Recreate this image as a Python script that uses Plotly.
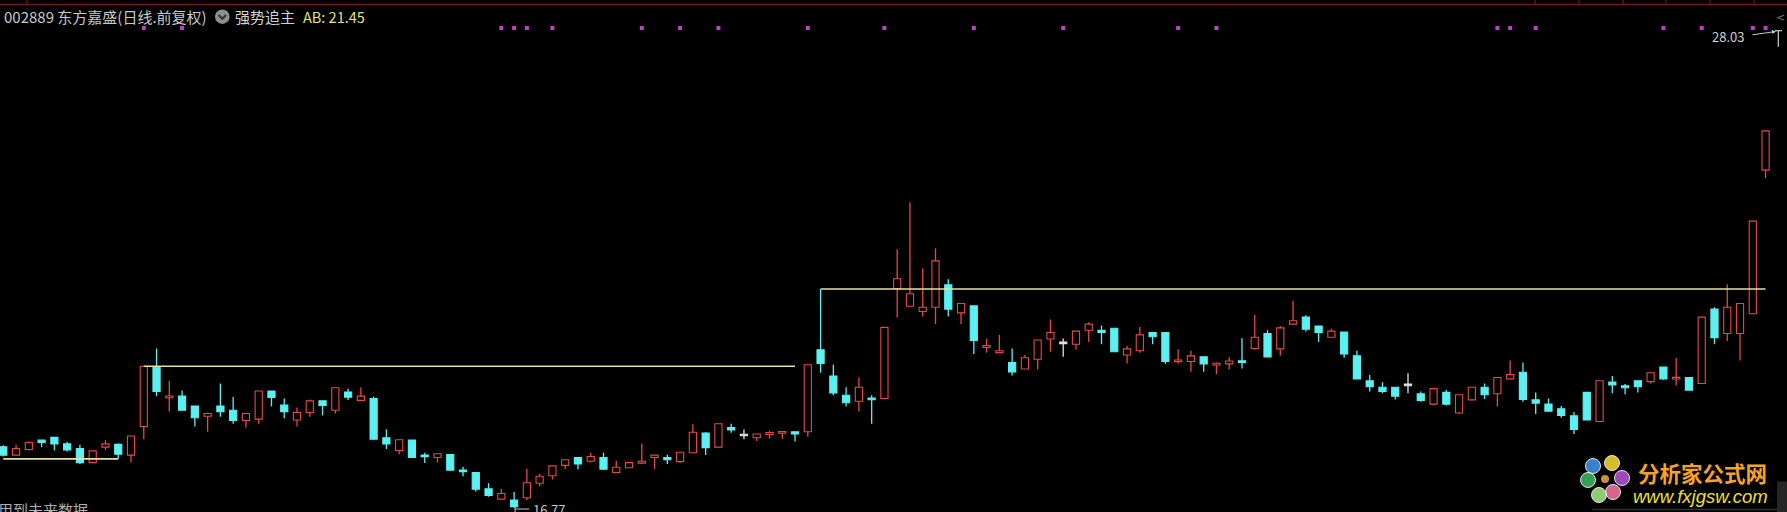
import plotly.graph_objects as go

W, H = 1787, 512

# ---------------- data ----------------
opens = [18.08, 17.90, 18.02, 18.22, 18.28, 18.14, 18.04, 17.74, 18.07, 18.13,
         17.90, 18.51, 19.78, 19.13, 19.16, 18.95, 18.73, 18.95, 18.86, 18.64,
         18.67, 19.27, 18.97, 18.65, 18.81, 19.06, 18.86, 19.25, 19.07, 19.11,
         18.27, 18.00, 18.22, 17.90, 17.85, 17.91, 17.58, 17.53, 17.18, 16.96,
         16.94, 16.99, 17.30, 17.46, 17.68, 17.85, 17.77, 17.85, 17.53, 17.63,
         17.73, 17.85, 17.85, 17.76, 17.95, 18.37, 18.07, 18.49, 18.33, 18.27,
         18.34, 18.37, 18.40, 18.40, 20.15, 19.59, 19.18, 19.05, 19.11, 19.11,
         21.46, 21.08, 20.97, 21.06, 21.54, 20.94, 21.09, 20.20, 20.09, 19.88,
         19.74, 19.95, 20.38, 20.30, 20.27, 20.57, 20.57, 20.61, 20.04, 20.13,
         20.52, 20.52, 19.90, 19.90, 20.00, 19.83, 19.85, 19.91, 20.18, 20.50,
         20.17, 20.70, 20.85, 20.66, 20.42, 20.53, 20.02, 19.49, 19.35, 19.35,
         19.40, 19.21, 18.99, 19.24, 18.80, 19.08, 19.35, 19.21, 19.53, 19.67,
         19.08, 18.99, 18.89, 18.74, 19.24, 18.62, 19.46, 19.38, 19.49, 19.47,
         19.78, 19.53, 19.56, 19.43, 21.02, 20.50, 20.50, 20.92, 23.99]
highs = [18.11, 18.12, 18.19, 18.22, 18.29, 18.18, 18.12, 17.99, 18.22, 18.15,
         18.31, 19.80, 20.18, 19.49, 19.28, 18.95, 18.81, 19.43, 19.14, 18.79,
         19.27, 19.27, 19.11, 18.92, 19.09, 19.06, 19.34, 19.32, 19.35, 19.15,
         18.45, 18.23, 18.22, 17.95, 17.93, 17.92, 17.65, 17.53, 17.30, 17.18,
         17.11, 17.61, 17.50, 17.67, 17.80, 17.85, 17.95, 17.95, 17.78, 17.74,
         18.15, 17.90, 17.91, 17.96, 18.56, 18.39, 18.57, 18.57, 18.45, 18.35,
         18.42, 18.40, 18.40, 19.83, 21.45, 19.83, 19.35, 19.56, 19.18, 20.63,
         22.30, 23.30, 21.89, 22.32, 21.66, 21.14, 21.09, 20.39, 20.47, 20.18,
         20.04, 20.36, 20.80, 20.39, 20.55, 20.74, 20.67, 20.61, 20.23, 20.64,
         20.52, 20.52, 20.16, 20.13, 20.00, 19.88, 19.99, 20.40, 20.90, 20.57,
         20.66, 21.20, 20.89, 20.66, 20.60, 20.53, 20.13, 19.61, 19.46, 19.35,
         19.65, 19.26, 19.32, 19.29, 19.19, 19.35, 19.43, 19.56, 19.92, 19.88,
         19.24, 19.11, 18.95, 18.82, 19.24, 19.49, 19.59, 19.42, 19.49, 19.66,
         19.78, 19.98, 19.56, 20.85, 21.06, 21.55, 21.14, 22.90, 24.83]
lows = [17.87, 17.90, 18.00, 18.07, 18.00, 17.98, 17.71, 17.73, 18.01, 17.82,
        17.74, 18.24, 19.16, 18.83, 18.86, 18.51, 18.40, 18.72, 18.57, 18.49,
        18.57, 18.94, 18.69, 18.51, 18.72, 18.75, 18.79, 19.08, 19.07, 18.22,
        18.03, 17.92, 17.85, 17.73, 17.74, 17.57, 17.45, 17.12, 17.01, 16.96,
        16.77, 16.94, 17.23, 17.38, 17.60, 17.60, 17.74, 17.58, 17.51, 17.63,
        17.71, 17.60, 17.71, 17.73, 17.94, 17.90, 18.07, 18.38, 18.24, 18.20,
        18.25, 18.25, 18.19, 18.29, 19.66, 19.18, 18.94, 18.83, 18.57, 19.11,
        20.84, 21.08, 20.86, 20.70, 20.86, 20.70, 20.06, 20.09, 20.09, 19.60,
        19.74, 19.73, 20.11, 20.00, 20.16, 20.32, 20.27, 20.11, 19.86, 20.09,
        20.27, 19.85, 19.86, 19.68, 19.68, 19.63, 19.73, 19.75, 20.15, 19.99,
        20.03, 20.70, 20.54, 20.32, 20.42, 19.98, 19.53, 19.26, 19.22, 19.09,
        19.22, 19.04, 18.97, 18.96, 18.78, 19.08, 19.10, 18.94, 19.53, 19.04,
        18.78, 18.84, 18.70, 18.35, 18.65, 18.62, 19.22, 19.20, 19.24, 19.43,
        19.51, 19.39, 19.29, 19.43, 20.27, 20.34, 19.92, 20.92, 23.82]
closes = [17.90, 18.04, 18.17, 18.17, 18.14, 18.01, 17.74, 17.99, 18.14, 17.92,
          18.31, 19.80, 19.26, 19.16, 18.86, 18.70, 18.79, 18.83, 18.64, 18.79,
          19.27, 19.13, 18.83, 18.81, 19.06, 18.96, 19.34, 19.14, 19.16, 18.24,
          18.14, 18.23, 17.85, 17.87, 17.93, 17.58, 17.55, 17.17, 17.04, 17.08,
          16.80, 17.31, 17.45, 17.67, 17.80, 17.71, 17.87, 17.60, 17.64, 17.74,
          17.77, 17.90, 17.80, 17.96, 18.39, 18.06, 18.57, 18.44, 18.33, 18.35,
          18.38, 18.40, 18.35, 19.83, 19.86, 19.23, 19.02, 19.35, 19.09, 20.63,
          21.67, 21.35, 21.06, 22.05, 21.02, 21.14, 20.35, 20.24, 20.13, 19.68,
          19.98, 20.36, 20.52, 20.30, 20.55, 20.70, 20.52, 20.11, 20.17, 20.47,
          20.43, 19.90, 19.93, 20.02, 19.85, 19.86, 19.91, 19.89, 20.42, 20.00,
          20.62, 20.77, 20.59, 20.52, 20.55, 20.06, 19.53, 19.36, 19.26, 19.16,
          19.40, 19.07, 19.32, 18.99, 19.19, 19.35, 19.19, 19.56, 19.62, 19.09,
          19.01, 18.84, 18.75, 18.45, 18.65, 19.49, 19.40, 19.34, 19.36, 19.66,
          19.53, 19.56, 19.29, 20.85, 20.41, 21.06, 21.14, 22.90, 24.83]

# AB step line (强势追主)
ab_line = ([17.82] * 10 + [None] + [19.80] * 52 + [None] + [21.45] * 75)

# bars carrying a signal dot in the top row
signal_bars = [11, 14, 39, 40, 41, 43, 50, 53, 56, 63, 69, 76, 83, 92, 95,
               117, 118, 120, 130, 133, 137, 138]

header_text = "002889 东方嘉盛(日线.前复权)"
indicator_name = "强势追主"
ab_text = "AB: 21.45"
low_text = "16.77"
high_text = "28.03"
warning_text = "用到未来数据"
logo_cn = "分析家公式网"
logo_url = "www.fxjgsw.com"

# ---------------- styling ----------------
RED = "#e84848"
CYAN = "#5cf0f0"
WHITE = "#e0e0e0"
YEL = "#e6e0a0"
MAG = "#c040c8"
BORDER = "#7a1818"
FONT = "Noto Sans CJK SC"

X0_PX, STEP_PX = 3.3, 12.77          # first bar centre / bar spacing in pixels
P0, PY0, PPX = 16.77, 508.0, 0.02137  # price at pixel row PY0, price per pixel
x_range = [-X0_PX / STEP_PX, (W - X0_PX) / STEP_PX]
y_range = [P0 - PPX * (H - PY0), P0 + PPX * PY0]


def pxx(v):
    return v / W


def pxy(v):
    return 1 - v / H


n = len(opens)
xs = list(range(n))

kind = []
for o, c in zip(opens, closes):
    kind.append("up" if c > o else ("down" if c < o else "flat"))

MINH = 0.035
body_base, body_h, fill_c, line_c = [], [], [], []
for o, c, k in zip(opens, closes, kind):
    lo, hi = min(o, c), max(o, c)
    h = hi - lo
    if h < MINH:
        lo -= (MINH - h) / 2
        h = MINH
    body_base.append(lo)
    body_h.append(h)
    fill_c.append({"up": "#000000", "down": CYAN, "flat": WHITE}[k])
    line_c.append({"up": RED, "down": CYAN, "flat": WHITE}[k])

fig = go.Figure()

# wicks (drawn outside the bodies)
for k, col in (("up", RED), ("down", CYAN), ("flat", WHITE)):
    wx, wy = [], []
    for i in xs:
        if kind[i] != k:
            continue
        top, bot = max(opens[i], closes[i]), min(opens[i], closes[i])
        wx += [i, i, None, i, i, None]
        wy += [highs[i], top, None, bot, lows[i], None]
    fig.add_trace(go.Scatter(x=wx, y=wy, mode="lines",
                             line=dict(color=col, width=1.3),
                             hoverinfo="skip", showlegend=False))

# bodies
fig.add_trace(go.Bar(x=xs, y=body_h, base=body_base, width=0.56,
                     marker=dict(color=fill_c, line=dict(color=line_c, width=1.1)),
                     hoverinfo="skip", showlegend=False))

# AB line
fig.add_trace(go.Scatter(x=xs, y=ab_line, mode="lines",
                         line=dict(color=YEL, width=1.6, shape="hv"),
                         connectgaps=False, hoverinfo="skip", showlegend=False))

# signal dots on the top row
fig.add_trace(go.Scatter(x=signal_bars, y=[1 - 28 / H] * len(signal_bars),
                         yaxis="y2", mode="markers",
                         marker=dict(symbol="square", size=4, color=MAG),
                         hoverinfo="skip", showlegend=False))

shapes = []
annotations = []

# top border line of the panel with its small ticks
shapes.append(dict(type="line", xref="paper", yref="paper",
                   x0=0, x1=1, y0=pxy(4.5), y1=pxy(4.5),
                   line=dict(color=BORDER, width=1.5)))
for tx in (27, 1535, 1579, 1623, 1666, 1710, 1754):
    shapes.append(dict(type="line", xref="paper", yref="paper",
                       x0=pxx(tx), x1=pxx(tx), y0=pxy(0), y1=pxy(4.5),
                       line=dict(color=BORDER, width=1.2)))

# header
annotations.append(dict(xref="paper", yref="paper", x=pxx(2), y=pxy(16.7),
                        xanchor="left", yanchor="middle", showarrow=False,
                        text=header_text, font=dict(family=FONT, size=15, color="#c8c8c8")))
shapes.append(dict(type="circle", xref="paper", yref="paper",
                   x0=pxx(215), x1=pxx(229.6), y0=pxy(24), y1=pxy(9.4),
                   fillcolor="#8e8e8e", line=dict(width=0)))
shapes.append(dict(type="path", xref="paper", yref="paper",
                   path=f"M {pxx(218.6)},{pxy(15)} L {pxx(222.3)},{pxy(18.8)} L {pxx(226)},{pxy(15)}",
                   line=dict(color="#303030", width=2)))
annotations.append(dict(xref="paper", yref="paper", x=pxx(233), y=pxy(16.7),
                        xanchor="left", yanchor="middle", showarrow=False,
                        text=indicator_name, font=dict(family=FONT, size=15, color="#d2d2d2")))
annotations.append(dict(xref="paper", yref="paper", x=pxx(301), y=pxy(16.7),
                        xanchor="left", yanchor="middle", showarrow=False,
                        text=ab_text, font=dict(family=FONT, size=14.5, color="#e4e27a")))

# right edge chevron
annotations.append(dict(xref="paper", yref="paper", x=pxx(1787), y=pxy(17.5),
                        xanchor="right", yanchor="middle", showarrow=False,
                        text="&lt;", font=dict(family="DejaVu Sans", size=11, color="#7a7a7a")))

# high marker (28.03)
annotations.append(dict(xref="paper", yref="paper", x=pxx(1710), y=pxy(36.7),
                        xanchor="left", yanchor="middle", showarrow=False,
                        text=high_text, font=dict(family=FONT, size=13, color="#d0d0d0")))
annotations.append(dict(xref="paper", yref="paper", x=pxx(1776), y=pxy(31.5),
                        ax=-25, ay=3.5, axref="pixel", ayref="pixel", text="",
                        showarrow=True, arrowhead=2, arrowsize=0.8, arrowwidth=1,
                        arrowcolor="#c8c8c8"))
shapes.append(dict(type="line", xref="paper", yref="paper",
                   x0=pxx(1778.3), x1=pxx(1778.3), y0=pxy(30.7), y1=pxy(46.7),
                   line=dict(color="#d0d0d0", width=1.2)))
shapes.append(dict(type="line", xref="paper", yref="paper",
                   x0=pxx(1775), x1=pxx(1782), y0=pxy(30.7), y1=pxy(30.7),
                   line=dict(color="#d0d0d0", width=1.2)))

# low marker (16.77)
low_i = lows.index(min(lows))
shapes.append(dict(type="line", xref="x", xsizemode="pixel", xanchor=low_i,
                   x0=1, x1=15, yref="paper", y0=pxy(509), y1=pxy(509),
                   line=dict(color="#c8c8c8", width=1)))
shapes.append(dict(type="line", xref="x", xsizemode="pixel", xanchor=low_i,
                   x0=1, x1=1, yref="paper", y0=pxy(505), y1=pxy(512),
                   line=dict(color="#c8c8c8", width=1)))
annotations.append(dict(xref="x", yref="paper", x=low_i, y=pxy(509.5), xshift=17,
                        xanchor="left", yanchor="middle", showarrow=False,
                        text=low_text, font=dict(family=FONT, size=13, color="#c8c8c8")))

# bottom-left warning text (cut by the edges)
annotations.append(dict(xref="paper", yref="paper", x=pxx(-4), y=pxy(496.5),
                        xanchor="left", yanchor="top", showarrow=False,
                        text=warning_text, font=dict(family=FONT, size=15, color="#b0b0b0")))

# watermark logo
shapes.append(dict(type="line", xref="paper", yref="paper",
                   x0=pxx(1592), x1=pxx(1777), y0=pxy(509.5), y1=pxy(509.5),
                   line=dict(color="#303030", width=1.5)))
shapes.append(dict(type="rect", xref="paper", yref="paper",
                   x0=pxx(1777), x1=pxx(1787), y0=pxy(512), y1=pxy(481.5),
                   fillcolor="#262626", line=dict(width=0)))
petals = [((1593, 466), "#3d8fe0"), ((1612, 463), "#f0d030"), ((1622, 478), "#b050d0"),
          ((1613, 492), "#f070a0"), ((1599, 495), "#a0e080"), ((1588, 480), "#40b060")]
for (cx, cy), col in petals:
    shapes.append(dict(type="circle", xref="paper", yref="paper",
                       x0=pxx(cx - 7.5), x1=pxx(cx + 7.5), y0=pxy(cy + 7.5), y1=pxy(cy - 7.5),
                       fillcolor=col, line=dict(color="#ffffff", width=1), opacity=0.9))
shapes.append(dict(type="circle", xref="paper", yref="paper",
                   x0=pxx(1601), x1=pxx(1609), y0=pxy(483), y1=pxy(475),
                   fillcolor="#c89030", line=dict(width=0)))
annotations.append(dict(xref="paper", yref="paper", x=pxx(1636), y=pxy(472.5),
                        xanchor="left", yanchor="middle", showarrow=False,
                        text=f"<b>{logo_cn}</b>",
                        font=dict(family=FONT, size=21.5, color="#f4a22a")))
annotations.append(dict(xref="paper", yref="paper", x=pxx(1631), y=pxy(496.5),
                        xanchor="left", yanchor="middle", showarrow=False,
                        text=f"<i>{logo_url}</i>",
                        font=dict(family="Liberation Sans", size=18.5, color="#efe030")))

fig.update_layout(
    width=W, height=H, autosize=False,
    margin=dict(l=0, r=0, t=0, b=0, pad=0),
    paper_bgcolor="#000000", plot_bgcolor="#000000",
    barmode="overlay", showlegend=False,
    xaxis=dict(range=x_range, visible=False, fixedrange=True),
    yaxis=dict(range=y_range, visible=False, fixedrange=True),
    yaxis2=dict(range=[0, 1], overlaying="y", visible=False, fixedrange=True),
    shapes=shapes, annotations=annotations,
)

fig.write_html(
    "out.html",
    config={"displayModeBar": False},
    post_script="document.body.style.margin='0';document.body.style.overflow='hidden';"
                "document.body.style.background='#000';",
)
